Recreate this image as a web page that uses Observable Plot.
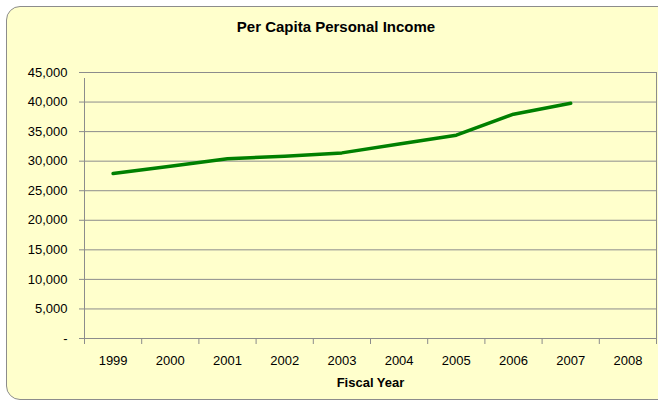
<!DOCTYPE html>
<html>
<head>
<meta charset="utf-8">
<script src="https://cdn.jsdelivr.net/npm/d3@7"></script>
<script src="https://cdn.jsdelivr.net/npm/@observablehq/plot@0.6"></script>
<style>
  html, body { margin: 0; padding: 0; background: #fff; }
  #wrap { position: relative; width: 658px; height: 404px; overflow: hidden; font-family: "Liberation Sans", Arial, sans-serif; }
  #panel { position: absolute; left: 6px; top: 6px; width: 680px; height: 394px; background: #FFFFCC; border: 1.5px solid #8c8c8c; border-radius: 14px; box-sizing: border-box; }
  #title { position: absolute; left: 0; width: 672px; top: 18px; text-align: center; font-weight: bold; font-size: 15px; color: #000; }
  #chart { position: absolute; left: 0; top: 0; }
  #chart svg { background: transparent; }
</style>
</head>
<body>
<div id="wrap">
  <div id="panel"></div>
  <div id="title">Per Capita Personal Income</div>
  <div id="chart"></div>
</div>
<script>
const years = [1999, 2000, 2001, 2002, 2003, 2004, 2005, 2006, 2007, 2008];
const incomeYears = [1999, 2000, 2001, 2002, 2003, 2004, 2005, 2006, 2007];
const income = [27900, 29150, 30400, 30850, 31400, 32900, 34400, 37950, 39800];
const yTicks = [0, 5000, 10000, 15000, 20000, 25000, 30000, 35000, 40000, 45000];
const yearBoundaries = [1998.5, 1999.5, 2000.5, 2001.5, 2002.5, 2003.5, 2004.5, 2005.5, 2006.5, 2007.5, 2008.5];

const data = incomeYears.map((y, i) => ({year: y, value: income[i]}));
const fmt = d3.format(",");

const chart = Plot.plot({
  width: 658,
  height: 404,
  marginTop: 72,
  marginBottom: 66,
  marginLeft: 84,
  marginRight: 2,
  style: {fontFamily: "'Liberation Sans', Arial, sans-serif", fontSize: "13px", color: "#000", background: "transparent"},
  x: {type: "linear", domain: [1998.5, 2008.5]},
  y: {domain: [0, 45000]},
  marks: [
    Plot.ruleY(yTicks, {stroke: "#8c8c8c", strokeWidth: 1, strokeOpacity: 1}),
    Plot.ruleX([2008.5], {y1: 0, y2: 45000, stroke: "#8c8c8c", strokeWidth: 1}),
    Plot.ruleX([1998.5], {y1: 0, y2: 45000, insetBottom: -6, stroke: "#8c8c8c", strokeWidth: 1}),
    Plot.axisY(yTicks, {tickSize: 5, tickPadding: 12, tickFormat: d => d === 0 ? "-" : fmt(d), stroke: "#8c8c8c", label: null, fontSize: 13}),
    Plot.axisX(yearBoundaries, {tickSize: 6, tickFormat: () => "", stroke: "#8c8c8c", label: null}),
    Plot.axisX(years, {tickSize: 0, tickPadding: 17, tickFormat: d => String(d), label: null, fontSize: 13}),
    Plot.line(data, {x: "year", y: "value", stroke: "#008000", strokeWidth: 3.5, strokeLinejoin: "round", strokeLinecap: "round"}),
    Plot.text(["Fiscal Year"], {frameAnchor: "bottom", dy: 48, text: d => d, fontWeight: "bold", fontSize: 13, fill: "#000"})
  ]
});
document.getElementById("chart").appendChild(chart);
</script>
</body>
</html>
